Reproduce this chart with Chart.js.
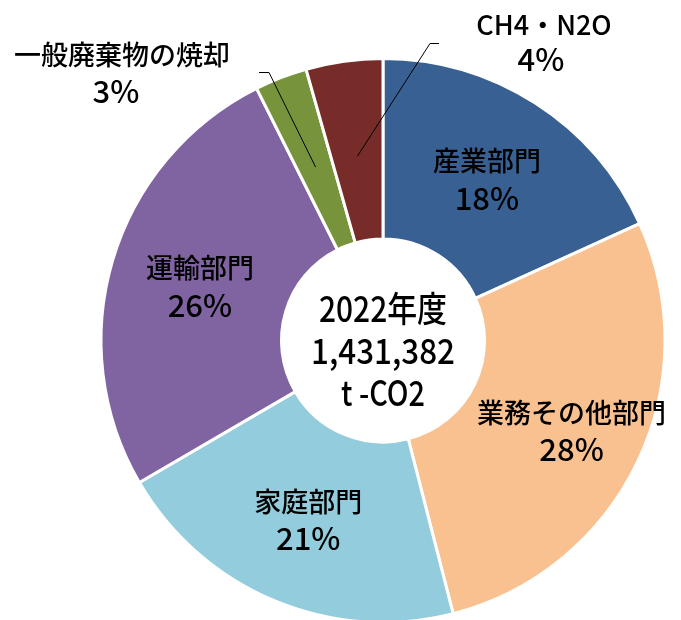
<!DOCTYPE html>
<html>
<head>
<meta charset="utf-8">
<script src="https://cdn.jsdelivr.net/npm/chart.js@4/dist/chart.umd.min.js"></script>
<style>
  html, body { margin: 0; padding: 0; background: #fff; overflow: hidden; }
</style>
</head>
<body>
<canvas id="myChart-CO2" width="681" height="626"></canvas>
<script>
const categories = ['産業部門', '業務その他部門', '家庭部門', '運輸部門', '一般廃棄物の焼却', 'CH4・N2O'];
const shares = [18.2, 27.8, 20.6, 26.0, 3.0, 4.4];
const sliceColors = ['#386092', '#F9C090', '#93CCDD', '#8064A2', '#77933C', '#772C2A'];
const centerLines = ['2022年度', '1,431,382', 't -CO2'];

const FONT = '"Noto Sans CJK JP", "Noto Sans", sans-serif';

// labels inside slices: distance from the centre
const labelRadius = [192, 209, 194, 191];

// labels outside the ring, with leader lines (offsets from the centre)
const outsideLabels = {
  4: { elbow: [-114, -268], tail: -10, name: [-261, -286], pct: [-267, -249] },
  5: { elbow: [47, -297], tail: 9, name: [161, -316], pct: [158, -281] }
};

const sliceLabels = {
  id: 'sliceLabels',
  afterDatasetsDraw(chart) {
    const ctx = chart.ctx;
    const arcs = chart.getDatasetMeta(0).data;
    ctx.save();
    ctx.fillStyle = '#000';
    ctx.textAlign = 'center';
    ctx.textBaseline = 'middle';
    const nameFont = '500 27px ' + FONT;
    const pctFont = '500 31px ' + FONT;
    arcs.forEach((arc, i) => {
      const { x, y, startAngle, endAngle } = arc.getProps(['x', 'y', 'startAngle', 'endAngle'], true);
      const mid = (startAngle + endAngle) / 2;
      const pct = Math.round(shares[i]) + '%';
      const out = outsideLabels[i];
      let nx, ny, qx, qy;
      if (!out) {
        const r = labelRadius[i];
        const px = x + Math.cos(mid) * r;
        const py = y + Math.sin(mid) * r;
        nx = px; ny = py - 18; qx = px; qy = py + 19;
      } else {
        const sx = x + Math.cos(mid) * 186;
        const sy = y + Math.sin(mid) * 186;
        ctx.strokeStyle = '#000';
        ctx.lineWidth = 1;
        ctx.beginPath();
        ctx.moveTo(sx, sy);
        ctx.lineTo(x + out.elbow[0], y + out.elbow[1]);
        ctx.lineTo(x + out.elbow[0] + out.tail, y + out.elbow[1]);
        ctx.stroke();
        nx = x + out.name[0]; ny = y + out.name[1];
        qx = x + out.pct[0]; qy = y + out.pct[1];
      }
      ctx.font = nameFont;
      ctx.fillText(categories[i], nx, ny);
      ctx.font = pctFont;
      ctx.fillText(pct, qx, qy);
    });

    // centre text, narrow like the original
    const cx = arcs[0].x, cy = arcs[0].y;
    const widths = [128, 144, 84];
    const offsets = [-32, 10, 52];
    ctx.font = '500 35px ' + FONT;
    centerLines.forEach((t, i) => {
      const w = ctx.measureText(t).width;
      ctx.save();
      ctx.translate(cx, cy + offsets[i]);
      ctx.scale(widths[i] / w, 1);
      ctx.fillText(t, 0, 0);
      ctx.restore();
    });
    ctx.restore();
  }
};

new Chart(document.getElementById('myChart-CO2'), {
  type: 'doughnut',
  data: {
    labels: categories,
    datasets: [{
      data: shares,
      backgroundColor: sliceColors,
      borderColor: '#fff',
      borderWidth: 3
    }]
  },
  options: {
    responsive: false,
    animation: false,
    devicePixelRatio: 1,
    cutout: '36%',
    layout: { padding: { top: 57, bottom: 2, left: 99, right: 14 } },
    plugins: {
      legend: { display: false },
      tooltip: { enabled: false }
    }
  },
  plugins: [sliceLabels]
});
</script>
</body>
</html>
